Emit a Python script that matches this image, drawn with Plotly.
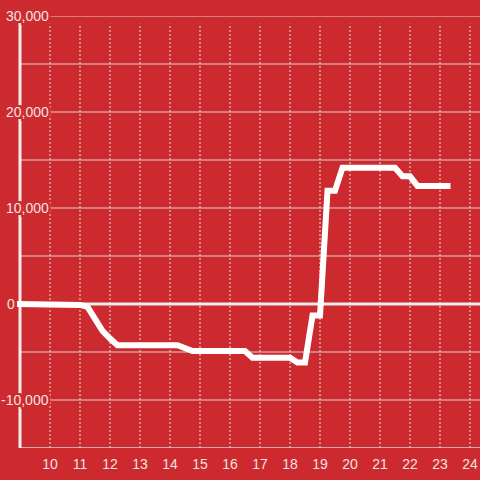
import plotly.graph_objects as go

# ---- data ----
hours = [8.9, 11.0, 11.25, 11.5, 11.75, 12.0, 12.25, 14.25, 14.5, 14.75,
         16.5, 16.75, 18.0, 18.25, 18.5, 18.75, 19.0, 19.25, 19.5, 19.75,
         21.5, 21.75, 22.0, 22.25, 23.35]
values = [0, -100, -300, -1500, -2800, -3600, -4300, -4300, -4600, -4900,
          -4900, -5600, -5600, -6100, -6100, -1200, -1200, 11800, 11800, 14200,
          14200, 13300, 13300, 12300, 12300]

x_ticks = [10, 11, 12, 13, 14, 15, 16, 17, 18, 19, 20, 21, 22, 23, 24]
y_grid = [-10000, -5000, 5000, 10000, 15000, 20000, 25000, 30000]
y_labels = [30000, 20000, 10000, 0, -10000]

# ---- styling ----
BG = "#cc2a2f"
TXT = "#f3e2e2"
GRID = "#d8d2d2"
FONT = "Liberation Sans, Arial, sans-serif"
X_MIN, X_MAX = 8.3333, 24.3333
Y_MIN, Y_MAX = -15000, 30000
AXIS_X = 9.0
AXIS_TOP = 29200

halo = ", ".join(f"{dx}px {dy}px 0 {BG}" for dx in (-2, -1, 0, 1, 2)
                 for dy in (-2, -1, 0, 1, 2) if (dx, dy) != (0, 0))

fig = go.Figure()
fig.add_trace(go.Scatter(x=hours, y=values, mode="lines",
                         line=dict(color="white", width=6),
                         hoverinfo="skip", showlegend=False))

shapes = []
for t in x_ticks:
    shapes.append(dict(type="line", layer="below", xref="x", yref="y",
                       x0=t, x1=t, y0=Y_MIN, y1=AXIS_TOP,
                       line=dict(color="#e8e0e0", width=1, dash="2px,2px")))
for g in y_grid:
    shapes.append(dict(type="line", layer="below", xref="x", yref="y",
                       x0=AXIS_X, x1=X_MAX, y0=g, y1=g,
                       line=dict(color=GRID, width=1)))
shapes.append(dict(type="line", layer="below", xref="x", yref="y",
                   x0=AXIS_X, x1=X_MAX, y0=Y_MIN, y1=Y_MIN,
                   line=dict(color=GRID, width=1.5)))
shapes.append(dict(type="line", layer="below", xref="x", yref="y",
                   x0=AXIS_X, x1=X_MAX, y0=0, y1=0,
                   line=dict(color="#f2ecec", width=3)))
shapes.append(dict(type="line", layer="below", xref="x", yref="y",
                   x0=AXIS_X, x1=AXIS_X, y0=Y_MIN, y1=Y_MAX,
                   line=dict(color="#f2eeee", width=3)))

annotations = []
for v in y_labels:
    annotations.append(dict(xref="paper", yref="y", x=0, y=v,
                            text=f"{v:,}", showarrow=False,
                            xanchor="right", yanchor="middle",
                            xshift=(16 if v == 0 else 50),
                            font=dict(family=FONT, size=14, color=TXT,
                                      shadow=halo),
                            borderpad=0))

fig.update_layout(
    width=480, height=480,
    margin=dict(l=0, r=0, t=16, b=32),
    paper_bgcolor=BG, plot_bgcolor=BG,
    showlegend=False,
    shapes=shapes, annotations=annotations,
    xaxis=dict(range=[X_MIN, X_MAX], tickvals=x_ticks,
               ticktext=[str(t) for t in x_ticks],
               showgrid=False, zeroline=False, showline=False, ticks="",
               ticklabelstandoff=6,
               tickfont=dict(family=FONT, size=14, color=TXT)),
    yaxis=dict(range=[Y_MIN, Y_MAX], showgrid=False, zeroline=False,
               showline=False, showticklabels=False, ticks=""),
)

fig.write_html("out.html", config={"displayModeBar": False},
               post_script="document.body.style.margin='0';"
                           "document.body.style.background='" + BG + "';")
